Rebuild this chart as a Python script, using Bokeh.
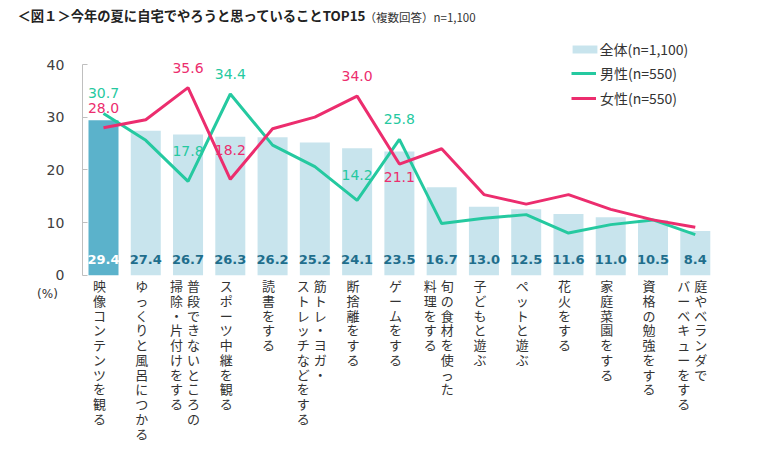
from bokeh.plotting import figure
from bokeh.models import ColumnDataSource, Range1d, FixedTicker, LabelSet, Label, Legend, LegendItem
from bokeh.core.properties import value
from bokeh.embed import file_html
from bokeh.resources import INLINE

# ---------------- data ----------------
categories = [
    "映像コンテンツを観る",
    "ゆっくりと風呂につかる",
    "普段できないところの|掃除・片付けをする",
    "スポーツ中継を観る",
    "読書をする",
    "筋トレ・ヨガ・|ストレッチなどをする",
    "断捨離をする",
    "ゲームをする",
    "旬の食材を使った|料理をする",
    "子どもと遊ぶ",
    "ペットと遊ぶ",
    "花火をする",
    "家庭菜園をする",
    "資格の勉強をする",
    "庭やベランダで|バーベキューをする",
]
total = [29.4, 27.4, 26.7, 26.3, 26.2, 25.2, 24.1, 23.5, 16.7, 13.0, 12.5, 11.6, 11.0, 10.5, 8.4]
male = [30.7, 25.6, 17.8, 34.4, 24.7, 20.6, 14.2, 25.8, 9.8, 10.8, 11.5, 8.0, 9.6, 10.5, 7.7]
female = [28.0, 29.5, 35.6, 18.2, 27.8, 30.0, 34.0, 21.1, 24.0, 15.3, 13.5, 15.3, 12.5, 10.5, 9.1]
y_ticks = [0, 10, 20, 30, 40]
series_names = ["全体(n=1,100)", "男性(n=550)", "女性(n=550)"]
title_text = "＜図１＞今年の夏に自宅でやろうと思っていることTOP15"
subtitle_text = "（複数回答）n=1,100"
unit_text = "(%)"

# which points carry value labels, and their label offsets (style)
male_labeled = [0, 2, 3, 6, 7]
male_offsets = [-20, -30, -20, -25, -20]
female_labeled = [0, 2, 3, 6, 7]
female_offsets = [-20, -20, -29, -20, 13]

# ---------------- layout / styles ----------------
W, H = 760, 451
CAT_PX = 42.27        # px per category
UNIT_PX = 5.2675      # px per percent
X0_PX = 103.0         # px of first category centre
Y0_PX = 274.7         # px of value 0


def dx(px):
    return (px - X0_PX) / CAT_PX


def dy(py):
    return (Y0_PX - py) / UNIT_PX


BAR_LIGHT = "#c8e4ed"
BAR_DARK = "#5bb2cb"
GREEN = "#25c9a0"
PINK = "#ec2d6e"
TEAL_TEXT = "#1f6e8c"
JP = "Noto Sans CJK JP"
NUM = "DejaVu Sans"

n = len(categories)
idx = list(range(n))

p = figure(width=W, height=H, x_range=Range1d(dx(0), dx(W)), y_range=Range1d(dy(H), dy(0)),
           output_backend="svg", toolbar_location=None, min_border=0,
           min_border_left=0, min_border_right=0, min_border_top=0, min_border_bottom=0)
p.outline_line_color = None
p.grid.visible = False
p.xaxis.visible = False
p.background_fill_color = "white"
p.border_fill_color = "white"

ax = p.yaxis[0]
ax.fixed_location = -0.5
ax.ticker = FixedTicker(ticks=y_ticks)
ax.bounds = (0, 40)
ax.axis_line_color = "#bfbfbf"
ax.major_tick_line_color = "#bfbfbf"
ax.major_tick_in = 5
ax.major_tick_out = 0
ax.minor_tick_line_color = None
ax.major_label_standoff = 18
ax.major_label_text_font = NUM
ax.major_label_text_font_size = "14px"
ax.major_label_text_color = "#404040"

# bars
bar_colors = [BAR_DARK if i == 0 else BAR_LIGHT for i in idx]
bar_text_colors = ["white" if i == 0 else TEAL_TEXT for i in idx]
bsrc = ColumnDataSource(dict(x=idx, top=total, color=bar_colors, tcolor=bar_text_colors,
                             label=[f"{v:.1f}" for v in total], ly=[dy(259)] * n))
bars = p.vbar(x="x", top="top", width=0.71, fill_color="color", line_color=None, source=bsrc)
p.text(x="x", y="ly", text="label", source=bsrc, text_color="tcolor",
       text_font=value(NUM), text_font_style="bold", text_font_size="13px",
       text_align="center", text_baseline="middle")

# lines
l_male = p.line(idx, male, line_color=GREEN, line_width=3)
l_female = p.line(idx, female, line_color=PINK, line_width=3)

msrc = ColumnDataSource(dict(x=male_labeled, y=[male[i] for i in male_labeled],
                             t=[f"{male[i]:.1f}" for i in male_labeled], off=male_offsets))
p.text(x="x", y="y", text="t", y_offset="off", source=msrc, text_color=GREEN,
       text_font=value(NUM), text_font_size="14px", text_align="center", text_baseline="middle")
fsrc = ColumnDataSource(dict(x=female_labeled, y=[female[i] for i in female_labeled],
                             t=[f"{female[i]:.1f}" for i in female_labeled], off=female_offsets))
p.text(x="x", y="y", text="t", y_offset="off", source=fsrc, text_color=PINK,
       text_font=value(NUM), text_font_size="14px", text_align="center", text_baseline="middle")

# vertical category labels (columns read right to left)
cx, ctext, coff = [], [], []
for i, cat in enumerate(categories):
    cols = cat.split("|")
    k = len(cols)
    for j, col in enumerate(cols):
        cx.append(i)
        ctext.append("\n".join(col))
        if k == 1:
            coff.append(-4)
        else:
            coff.append(-3 + (k - 1) / 2 * 17 - j * 17)
csrc = ColumnDataSource(dict(x=cx, y=[dy(275.5)] * len(cx), text=ctext, off=coff))
p.add_layout(LabelSet(x="x", y="y", text="text", x_offset="off", source=csrc,
                      text_font=value(JP), text_font_size="13px", text_color="#333333",
                      text_align="center", text_baseline="top", text_line_height=0.777))

# unit label
p.add_layout(Label(x=dx(47), y=dy(293), text=unit_text, text_font=NUM, text_font_size="12px",
                   text_color="#333333", text_align="center", text_baseline="middle"))

# title
p.add_layout(Label(x=dx(17), y=dy(15), text=title_text, text_font=JP, text_font_style="bold",
                   text_font_size="13.3px", text_color="#222222", text_align="left",
                   text_baseline="middle"))
p.add_layout(Label(x=dx(364), y=dy(16), text=subtitle_text, text_font=JP,
                   text_font_size="11.5px", text_color="#333333", text_align="left",
                   text_baseline="middle"))

# legends (screen units from frame bottom-left)
leg_a = Legend(items=[LegendItem(label=series_names[0], renderers=[bars], index=1)],
               location=(568.6, H - 59.3), glyph_width=31, glyph_height=10, label_standoff=0,
               padding=0, margin=0, border_line_color=None, background_fill_alpha=0,
               label_text_font=JP, label_text_font_size="14px", label_text_color="#333333")
leg_b = Legend(items=[LegendItem(label=series_names[1], renderers=[l_male]),
                      LegendItem(label=series_names[2], renderers=[l_female])],
               location=(571, H - 107.8), glyph_width=25, glyph_height=10, label_standoff=4,
               spacing=5, padding=0, margin=0, border_line_color=None, background_fill_alpha=0,
               label_text_font=JP, label_text_font_size="14px", label_text_color="#333333")
p.add_layout(leg_a)
p.add_layout(leg_b)

open("out.html", "w").write(file_html(p, INLINE))
